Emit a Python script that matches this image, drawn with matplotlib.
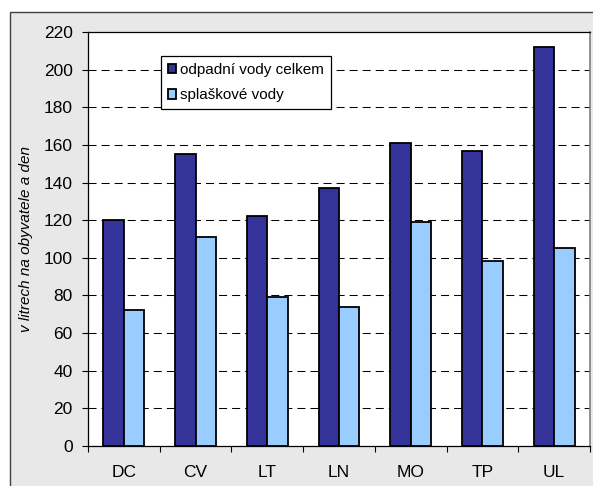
import numpy as np
import matplotlib.pyplot as plt
from matplotlib.patches import Rectangle

plt.rcParams['font.family'] = ['Liberation Sans', 'DejaVu Sans']
plt.rcParams['lines.scale_dashes'] = False

# data (litres per inhabitant and day)
regions = ['DC', 'CV', 'LT', 'LN', 'MO', 'TP', 'UL']
total_water = [120, 155, 122, 137, 161, 157, 212]
sewage_water = [72.5, 111, 79, 74, 119, 98.5, 105]
series_names = ['odpadní vody celkem', 'splaškové vody']
yticks = list(range(0, 221, 20))

fig = plt.figure(figsize=(5.93, 4.86), dpi=100)
fig.patch.set_facecolor('white')

# gray chart area with frame
fig.patches.append(Rectangle((10 / 593, -0.05), 1.0, (486 - 12) / 486 + 0.05,
                             transform=fig.transFigure, facecolor='#e8e8e8',
                             edgecolor='#404040', linewidth=1.0, zorder=-10))

ax = fig.add_axes([88 / 593, 40 / 486, 502 / 593, 414 / 486])
ax.set_facecolor('white')

x = np.arange(len(regions))
w = 0.285
ax.bar(x - w / 2, total_water, w, color='#333399', edgecolor='black',
       linewidth=1.3, label=series_names[0], zorder=3)
ax.bar(x + w / 2, sewage_water, w, color='#99ccff', edgecolor='black',
       linewidth=1.3, label=series_names[1], zorder=3)

ax.set_xlim(-0.5, len(regions) - 0.5)
ax.set_ylim(0, 220)

# dashed gridlines
for v in yticks[1:-1]:
    ax.axhline(v, color='black', linewidth=0.75, linestyle=(0, (5.8, 3.6)), zorder=1)

ax.set_yticks(yticks)
ax.tick_params(axis='y', direction='out', length=4.5, width=0.8, pad=6.5,
               labelsize=12.5, colors='black')
ax.set_xticks(x)
ax.set_xticklabels(regions)
ax.set_xticks(np.arange(-0.5, len(regions)), minor=True)
ax.tick_params(axis='x', which='major', length=0, pad=14, labelsize=12.5)
ax.tick_params(axis='x', which='minor', direction='out', length=4, width=0.8)

for s in ['left', 'top', 'bottom']:
    ax.spines[s].set_color('black')
    ax.spines[s].set_linewidth(0.9)
ax.spines['right'].set_color('#808080')
ax.spines['right'].set_linewidth(1.2)

ax.set_ylabel('v litrech na obyvatele a den', fontsize=11, style='italic',
              labelpad=8)

leg = ax.legend(loc='upper left', bbox_to_anchor=(0.1454, 0.942),
                borderaxespad=0, fontsize=11, fancybox=False, shadow=False,
                edgecolor='black', framealpha=1, handlelength=0.55,
                handleheight=0.55, handletextpad=0.25, labelspacing=0.75,
                borderpad=0.45)
leg.get_frame().set_linewidth(0.9)

plt.savefig('out.png', dpi=100)
